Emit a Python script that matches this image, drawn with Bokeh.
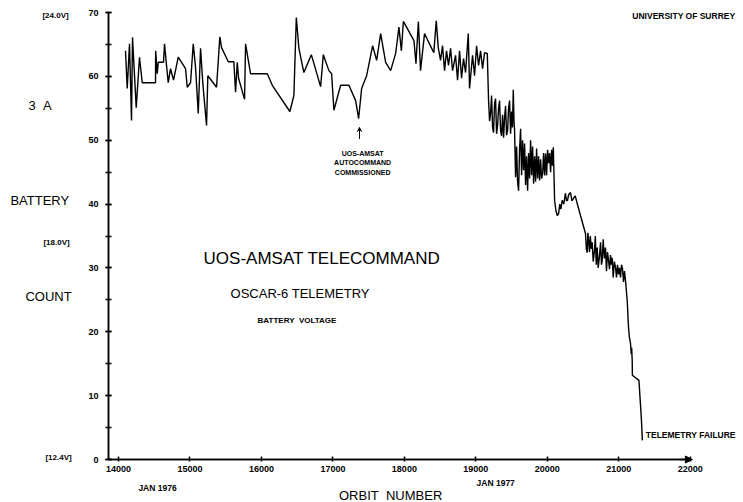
from bokeh.plotting import figure
from bokeh.models import Range1d, LinearAxis, SingleIntervalTicker, FixedTicker, Arrow, NormalHead, VeeHead
from bokeh.core.properties import value
from bokeh.embed import file_html
from bokeh.resources import INLINE

# ---- data ----
orbit = [14098, 14122, 14154, 14182, 14196, 14248, 14294, 14332, 14518, 14520,
         14542, 14556, 14630, 14644, 14668, 14696, 14728, 14770, 14836, 14938,
         14962, 15008, 15046, 15078, 15116, 15148, 15180, 15232, 15250, 15372,
         15418, 15442, 15536, 15614, 15638, 15662, 15680, 15764, 15778, 15848,
         16082, 16152, 16398, 16454, 16488, 16524, 16594, 16698, 16828, 16866,
         16944, 16982, 17014, 17108, 17224, 17318, 17360, 17402, 17472, 17556,
         17612, 17668, 17738, 17808, 17878, 17924, 17958, 17986, 18134, 18162,
         18196, 18226, 18282, 18412, 18446, 18474, 18506, 18534, 18562, 18590,
         18618, 18646, 18674, 18716, 18744, 18772, 18800, 18828, 18856, 18894,
         18912, 18954, 18982, 19010, 19038, 19066, 19094, 19122, 19160,
         19178, 19192, 19206, 19220, 19234, 19248, 19262, 19276, 19290, 19304,
         19318, 19332, 19346, 19360, 19374, 19388, 19402, 19416, 19430, 19444,
         19458, 19472, 19486, 19500, 19512, 19524, 19534,
         19542, 19556, 19570, 19584, 19598, 19612, 19626, 19640, 19654, 19668,
         19682, 19696, 19710, 19724, 19738, 19752, 19766, 19780, 19794, 19808,
         19822, 19836, 19850, 19864, 19878, 19892, 19906, 19920, 19934, 19948,
         19962, 19976, 19990, 20004, 20018, 20032, 20046, 20060, 20072, 20084,
         20102, 20120, 20140, 20158, 20175, 20190, 20208, 20230, 20254, 20268,
         20282, 20300, 20324, 20345, 20366, 20390, 20418,
         20534, 20546, 20558, 20567, 20576, 20590, 20602, 20615, 20628, 20642,
         20660, 20672, 20685, 20698, 20712, 20730, 20745, 20758, 20768, 20782,
         20798, 20814, 20828, 20842, 20856, 20870, 20884, 20896, 20908, 20922,
         20938, 20954, 20968, 20982, 20996, 21010, 21024, 21038, 21052, 21066,
         21080, 21094,
         21118, 21136, 21150, 21164, 21175, 21180, 21188, 21190, 21282, 21316, 21330]
battery_count = [64.0, 58.1, 65.1, 53.1, 66.1, 55.1, 63.0, 59.0, 59.0, 64.0,
                 60.4, 62.2, 62.2, 65.1, 62.2, 59.0, 61.2, 59.4, 63.0, 61.2,
                 58.3, 59.0, 65.1, 61.4, 54.2, 64.4, 58.9, 52.3, 60.1, 58.3,
                 66.2, 64.5, 62.3, 62.3, 57.5, 62.2, 59.7, 56.4, 65.1, 60.4,
                 60.4, 58.6, 54.5, 57.0, 69.2, 64.4, 60.6, 63.4, 58.4, 63.4,
                 60.9, 60.4, 54.7, 58.6, 58.6, 56.2, 53.4, 58.1, 60.1, 64.8,
                 62.5, 66.7, 62.2, 60.9, 63.6, 67.7, 64.0, 68.6, 65.6, 62.0,
                 68.6, 60.9, 66.7, 63.7, 68.7, 64.5, 62.5, 64.8, 60.9, 64.0,
                 61.7, 64.4, 60.9, 63.3, 59.4, 64.0, 59.7, 62.8, 60.6, 66.7,
                 58.1, 63.3, 60.1, 64.8, 61.7, 64.0, 61.2, 63.7, 63.6,
                 56.2, 53.0, 54.2, 57.0, 52.0, 51.2, 55.8, 56.5, 51.0, 52.3,
                 55.0, 56.2, 51.5, 50.7, 54.0, 50.4, 53.5, 55.4, 50.8, 51.5,
                 55.0, 56.2, 51.0, 54.5, 52.0, 57.9, 53.0,
                 51.5, 44.2, 49.0, 43.5, 42.1, 48.5, 51.8, 44.5, 50.0, 45.3,
                 49.5, 43.0, 47.5, 42.1, 48.0, 44.0, 50.0, 44.5, 49.0, 43.2,
                 47.5, 43.5, 48.7, 44.0, 47.5, 43.7, 47.0, 44.0, 44.8, 48.0,
                 44.5, 47.9, 44.5, 48.5, 46.4, 48.0, 45.0, 48.5, 46.0, 48.9,
                 40.6, 39.0, 38.2, 38.5, 40.0, 39.2, 40.6, 40.0, 41.7, 40.5,
                 40.6, 41.5, 41.8, 40.5, 40.9, 41.3, 40.1,
                 35.4, 33.0, 32.4, 35.5, 34.6, 32.5, 35.0, 33.0, 34.0, 31.0,
                 32.7, 35.0, 30.5, 33.2, 30.0, 31.9, 34.0, 30.5, 31.2, 34.5,
                 31.5, 33.2, 29.5, 32.5, 31.2, 29.8, 32.0, 30.5, 31.6, 28.5,
                 31.0, 30.1, 28.5, 30.5, 29.0, 30.0, 28.5, 30.5, 29.9, 27.8,
                 29.5, 28.0,
                 24.9, 20.7, 19.0, 18.2, 16.5, 17.5, 15.5, 13.2, 12.4, 6.4, 3.0]

x_ticks = [14000, 15000, 16000, 17000, 18000, 19000, 20000, 21000, 22000]
y_tick_step = 10
y_max = 70
axis_orbit = 13860
autocommand_orbit = 17372

p = figure(width=743, height=502, x_range=Range1d(12349, 22745), y_range=Range1d(-6.73, 71.88),
           output_backend="svg", toolbar_location=None, min_border=0,
           x_axis_type=None, y_axis_type=None)
p.outline_line_color = None
p.background_fill_color = "white"

FONT = value("Liberation Sans")
NB = "\u00a0"

yaxis = LinearAxis(fixed_location=axis_orbit, bounds=(0, y_max),
                   ticker=SingleIntervalTicker(interval=y_tick_step, num_minor_ticks=2))
yaxis.axis_line_width = 1.5
yaxis.axis_line_color = "black"
yaxis.major_tick_in = 3
yaxis.major_tick_out = 3
yaxis.minor_tick_in = 3
yaxis.minor_tick_out = 3
yaxis.major_tick_line_width = 1.5
yaxis.minor_tick_line_width = 1.5
yaxis.major_label_standoff = 7
yaxis.major_label_text_font = "Liberation Sans"
yaxis.major_label_text_font_style = "bold"
yaxis.major_label_text_font_size = "9px"
yaxis.major_label_text_color = "black"
p.add_layout(yaxis, "left")

xaxis = LinearAxis(fixed_location=0, bounds=(axis_orbit, x_ticks[-1]),
                   ticker=FixedTicker(ticks=x_ticks))
xaxis.axis_line_width = 1.5
xaxis.axis_line_color = "black"
xaxis.major_tick_in = 3
xaxis.major_tick_out = 2
xaxis.major_tick_line_width = 1.5
xaxis.minor_tick_line_color = None
xaxis.major_label_standoff = 4
xaxis.major_label_text_font = "Liberation Sans"
xaxis.major_label_text_font_style = "bold"
xaxis.major_label_text_font_size = "9px"
xaxis.major_label_text_color = "black"
p.add_layout(xaxis, "below")

# explicit axis spines
p.line([axis_orbit, axis_orbit], [0, y_max], line_color="black", line_width=1.5)
p.line([axis_orbit, x_ticks[-1]], [0, 0], line_color="black", line_width=1.5)

p.add_layout(Arrow(end=NormalHead(size=7, fill_color="black", line_color="black"),
                   x_start=x_ticks[-1] - 150, y_start=0, x_end=x_ticks[-1] + 30, y_end=0,
                   line_width=1.5, line_color="black"))

p.line(orbit, battery_count, line_color="black", line_width=1.4)

# annotation arrow
p.add_layout(Arrow(end=VeeHead(size=4, line_color="black"), x_start=autocommand_orbit, y_start=50.2,
                   x_end=autocommand_orbit, y_end=52.0, line_width=1, line_color="black"))

# titles
p.text(x=[15190], y=[31.5], text=["UOS-AMSAT TELECOMMAND"], text_font=FONT,
       text_font_size="17px", text_baseline="middle", text_align="left", text_color="black")
p.text(x=[15568], y=[26.0], text=["OSCAR-6 TELEMETRY"], text_font=FONT,
       text_font_size="13px", text_baseline="middle", text_align="left", text_color="black")
p.text(x=[15946], y=[21.8], text=["BATTERY" + NB + NB + "VOLTAGE"], text_font=FONT, text_font_style="bold",
       text_font_size="8px", text_baseline="middle", text_align="left", text_color="black")

p.text(x=[17416, 17416, 17416], y=[47.9, 46.5, 44.9],
       text=["UOS-AMSAT", "AUTOCOMMAND", "COMMISSIONED"], text_font=FONT, text_font_style="bold",
       text_font_size="7px", text_baseline="middle", text_align="center", text_color="black")

p.text(x=[22630], y=[69.5], text=["UNIVERSITY OF SURREY"], text_font=FONT, text_font_style="bold",
       text_font_size="8.5px", text_baseline="middle", text_align="right", text_color="black")
p.text(x=[21378], y=[3.8], text=["TELEMETRY FAILURE"], text_font=FONT, text_font_style="bold",
       text_font_size="8.5px", text_baseline="middle", text_align="left", text_color="black")

# left labels
p.text(x=[12740, 12488, 12698], y=[55.4, 40.6, 25.5], text=["3" + NB + NB + "A", "BATTERY", "COUNT"],
       text_font=FONT, text_font_size="13px", text_baseline="middle", text_align="left",
       text_color="black")
p.text(x=[12936, 12950, 12978], y=[69.6, 34.0, 0.3], text=["[24.0V]", "[18.0V]", "[12.4V]"],
       text_font=FONT, text_font_style="bold", text_font_size="8px", text_baseline="middle",
       text_align="left", text_color="black")

# bottom labels
p.text(x=[14546, 19278], y=[-4.5, -3.6], text=["JAN 1976", "JAN 1977"], text_font=FONT,
       text_font_style="bold", text_font_size="8.5px", text_baseline="middle", text_align="center",
       text_color="black")
p.text(x=[17808], y=[-5.6], text=["ORBIT" + NB + NB + "NUMBER"], text_font=FONT, text_font_size="13px",
       text_baseline="middle", text_align="center", text_color="black")

open("out.html", "w").write(file_html(p, INLINE))
